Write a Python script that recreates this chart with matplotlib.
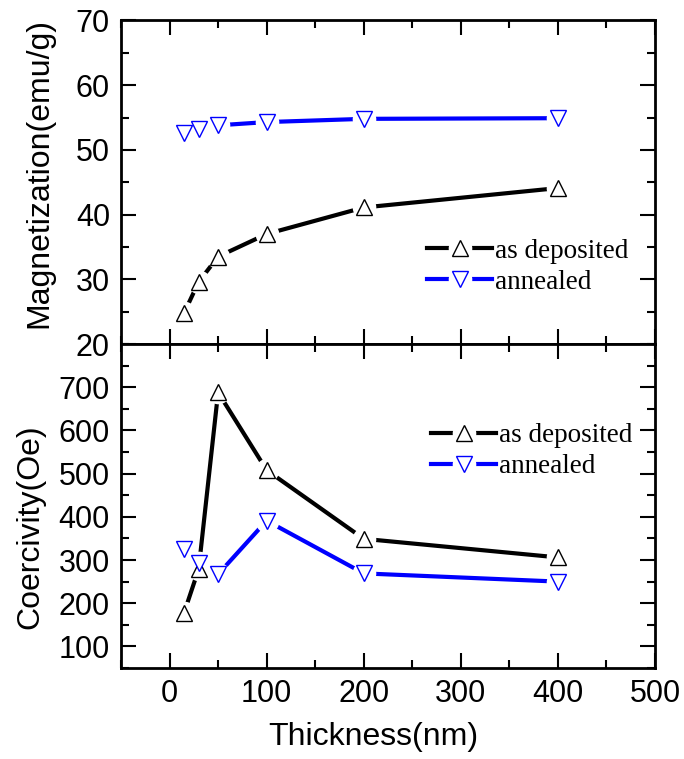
import matplotlib
matplotlib.use('Agg')
import matplotlib.pyplot as plt
from matplotlib.ticker import MultipleLocator
from matplotlib.legend_handler import HandlerTuple

plt.rcParams['font.family'] = ['Liberation Sans', 'DejaVu Sans']

thickness = [15, 30, 50, 100, 200, 400]
mag_dep = [24.8, 29.6, 33.5, 37.0, 41.1, 44.1]
mag_ann = [52.6, 53.2, 53.8, 54.3, 54.8, 54.9]
coer_dep = [178, 279, 688, 508, 349, 306]
coer_ann = [325, 294, 267, 391, 269, 250]
labels = ['as deposited', 'annealed']

fig = plt.figure(figsize=(6.84, 7.59), dpi=100)
ax1 = fig.add_axes([121/684, 1-344/759, 534/684, 323.5/759])
ax2 = fig.add_axes([121/684, 1-668/759, 534/684, 324/759])

serif = {'family': ['Liberation Serif', 'DejaVu Serif'], 'size': 19.5}

def draw(ax, y1, y2):
    handles = []
    for y, c, m in [(y1, 'black', '^'), (y2, 'blue', 'v')]:
        ax.plot(thickness, y, color=c, lw=3.0, solid_capstyle='round', zorder=2)
        ax.plot(thickness, y, 'o', ms=17, mfc='white', mec='none', zorder=3)
        ax.plot(thickness, y, m, ms=12, mfc='white', mec=c, mew=1.0, zorder=4, ls='none')
        l, = ax.plot([], [], color=c, lw=3.0)
        w, = ax.plot([], [], 'o', ms=17, mfc='white', mec='none')
        k, = ax.plot([], [], m, ms=12, mfc='white', mec=c, mew=1.0, ls='none')
        handles.append((l, w, k))
    return handles

def legend(ax, hs, anchor):
    ax.legend(hs, labels, loc='upper left', bbox_to_anchor=anchor, frameon=False,
              prop=serif, handlelength=2.4, handletextpad=0.1, labelspacing=0.22,
              handler_map={tuple: HandlerTuple(ndivide=1)})

hs = draw(ax1, mag_dep, mag_ann)
ax1.set_ylim(20, 70)
ax1.yaxis.set_major_locator(MultipleLocator(10))
ax1.yaxis.set_minor_locator(MultipleLocator(5))
ax1.set_ylabel('Magnetization(emu/g)', fontsize=23)
ax1.yaxis.set_label_coords(-0.124, 0.529)
legend(ax1, hs, (0.528, 0.40))

hs = draw(ax2, coer_dep, coer_ann)
ax2.set_ylim(50, 800)
ax2.yaxis.set_major_locator(MultipleLocator(100))
ax2.yaxis.set_minor_locator(MultipleLocator(50))
ax2.set_ylabel('Coercivity(Oe)', fontsize=23)
ax2.yaxis.set_label_coords(-0.142, 0.435)
ax2.set_xlabel('Thickness(nm)', fontsize=23)
ax2.xaxis.set_label_coords(0.472, -0.167)
legend(ax2, hs, (0.535, 0.83))
yt = ax2.get_yticks()
ax2.set_yticks([t for t in yt if 100 <= t <= 700])

for ax in (ax1, ax2):
    ax.set_xlim(-50, 500)
    ax.xaxis.set_major_locator(MultipleLocator(100))
    ax.xaxis.set_minor_locator(MultipleLocator(50))
    ax.tick_params(which='both', direction='in', top=True, right=True, labelsize=22, width=1.5)
    ax.tick_params(which='major', length=11, pad=8)
    ax.tick_params(which='minor', length=6)
    for s in ax.spines.values():
        s.set_linewidth(2)

ax1.tick_params(labelbottom=False)

fig.savefig('out.png', dpi=100)
